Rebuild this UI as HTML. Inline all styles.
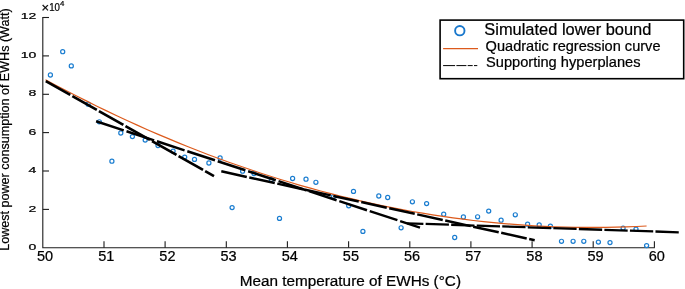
<!DOCTYPE html><html><head><meta charset="utf-8"><title>chart</title><style>html,body{margin:0;padding:0;background:#fff}svg{display:block;will-change:transform}</style></head><body>
<svg width="685" height="289" viewBox="0 0 685 289" font-family="Liberation Sans, Arial, sans-serif" fill="#000">
<style>text{stroke:#000;stroke-width:0.22px}</style>
<rect width="685" height="289" fill="#fff"/>
<g stroke="#1c1c1c" stroke-width="1.1" fill="none">
<path d="M42.8,17.0 V247.8 H654.8"/>
<path d="M104.0,247.8 v-6.6"/>
<path d="M165.1,247.8 v-6.6"/>
<path d="M226.3,247.8 v-6.6"/>
<path d="M287.4,247.8 v-6.6"/>
<path d="M348.6,247.8 v-6.6"/>
<path d="M409.8,247.8 v-6.6"/>
<path d="M470.9,247.8 v-6.6"/>
<path d="M532.1,247.8 v-6.6"/>
<path d="M593.2,247.8 v-6.6"/>
<path d="M654.4,247.8 v-6.6"/>
<path d="M42.8,209.4 h6.2"/>
<path d="M42.8,171.0 h6.2"/>
<path d="M42.8,132.6 h6.2"/>
<path d="M42.8,94.3 h6.2"/>
<path d="M42.8,55.9 h6.2"/>
<path d="M42.8,17.5 h6.2"/>
</g>
<text transform="translate(45.1,261.0) scale(1.03,1)" font-size="14.1" text-anchor="middle">50</text>
<text transform="translate(106.3,261.0) scale(1.03,1)" font-size="14.1" text-anchor="middle">51</text>
<text transform="translate(167.4,261.0) scale(1.03,1)" font-size="14.1" text-anchor="middle">52</text>
<text transform="translate(228.6,261.0) scale(1.03,1)" font-size="14.1" text-anchor="middle">53</text>
<text transform="translate(289.7,261.0) scale(1.03,1)" font-size="14.1" text-anchor="middle">54</text>
<text transform="translate(350.9,261.0) scale(1.03,1)" font-size="14.1" text-anchor="middle">55</text>
<text transform="translate(412.1,261.0) scale(1.03,1)" font-size="14.1" text-anchor="middle">56</text>
<text transform="translate(473.2,261.0) scale(1.03,1)" font-size="14.1" text-anchor="middle">57</text>
<text transform="translate(534.4,261.0) scale(1.03,1)" font-size="14.1" text-anchor="middle">58</text>
<text transform="translate(595.5,261.0) scale(1.03,1)" font-size="14.1" text-anchor="middle">59</text>
<text transform="translate(656.7,261.0) scale(1.03,1)" font-size="14.1" text-anchor="middle">60</text>
<text transform="translate(36.4,250.3) scale(1.69,1)" font-size="8.3" text-anchor="end" stroke="#000" stroke-width="0.15">0</text>
<text transform="translate(36.4,211.8) scale(1.69,1)" font-size="8.3" text-anchor="end" stroke="#000" stroke-width="0.15">2</text>
<text transform="translate(36.4,173.2) scale(1.69,1)" font-size="8.3" text-anchor="end" stroke="#000" stroke-width="0.15">4</text>
<text transform="translate(36.4,134.6) scale(1.69,1)" font-size="8.3" text-anchor="end" stroke="#000" stroke-width="0.15">6</text>
<text transform="translate(36.4,96.1) scale(1.69,1)" font-size="8.3" text-anchor="end" stroke="#000" stroke-width="0.15">8</text>
<text transform="translate(36.4,57.5) scale(1.69,1)" font-size="8.3" text-anchor="end" stroke="#000" stroke-width="0.15">10</text>
<text transform="translate(36.4,19.0) scale(1.69,1)" font-size="8.3" text-anchor="end" stroke="#000" stroke-width="0.15">12</text>
<text transform="translate(41.6,12.3) scale(1.0,1)" font-size="13" text-anchor="start">×</text>
<text transform="translate(49.2,10.8) scale(0.97,1)" font-size="10.0" text-anchor="start">10</text>
<text transform="translate(60.0,5.6) scale(1.0,1)" font-size="7.8" text-anchor="start">4</text>
<text x="239.7" y="285.5" font-size="14" textLength="221.3" lengthAdjust="spacingAndGlyphs">Mean temperature of EWHs (°C)</text>
<text transform="translate(9.4,250.7) rotate(-90)" font-size="13" textLength="242.3" lengthAdjust="spacingAndGlyphs">Lowest power consumption of EWHs (Watt)</text>
<g fill="none" stroke="#1a7dd0" stroke-width="1.2">
<circle cx="111.9" cy="161.2" r="2.05"/>
<circle cx="62.7" cy="51.7" r="2.05"/>
<circle cx="71.3" cy="65.9" r="2.05"/>
<circle cx="50.4" cy="75" r="2.05"/>
<circle cx="88.2" cy="104.2" r="2.05"/>
<circle cx="99.3" cy="121.8" r="2.05"/>
<circle cx="120.8" cy="133" r="2.05"/>
<circle cx="132.4" cy="136.6" r="2.05"/>
<circle cx="145.2" cy="140.1" r="2.05"/>
<circle cx="158" cy="145.5" r="2.05"/>
<circle cx="173.1" cy="151.1" r="2.05"/>
<circle cx="184.7" cy="157.1" r="2.05"/>
<circle cx="194.5" cy="159.4" r="2.05"/>
<circle cx="208.9" cy="163.0" r="2.05"/>
<circle cx="220.1" cy="158.0" r="2.05"/>
<circle cx="242.6" cy="171.2" r="2.05"/>
<circle cx="254" cy="173.5" r="2.05"/>
<circle cx="271.4" cy="179.7" r="2.05"/>
<circle cx="292.6" cy="178.5" r="2.05"/>
<circle cx="306" cy="179.2" r="2.05"/>
<circle cx="315.9" cy="182.3" r="2.05"/>
<circle cx="232.1" cy="207.6" r="2.05"/>
<circle cx="279.5" cy="218.4" r="2.05"/>
<circle cx="353.5" cy="191.4" r="2.05"/>
<circle cx="348.7" cy="205.8" r="2.05"/>
<circle cx="333.5" cy="196.6" r="2.05"/>
<circle cx="378.8" cy="196" r="2.05"/>
<circle cx="387.7" cy="197.5" r="2.05"/>
<circle cx="412.4" cy="201.8" r="2.05"/>
<circle cx="426.6" cy="203.6" r="2.05"/>
<circle cx="362.9" cy="231.4" r="2.05"/>
<circle cx="401.1" cy="227.8" r="2.05"/>
<circle cx="443.7" cy="214.2" r="2.05"/>
<circle cx="454.7" cy="237.5" r="2.05"/>
<circle cx="463.4" cy="217" r="2.05"/>
<circle cx="477.6" cy="216.8" r="2.05"/>
<circle cx="488.7" cy="211.1" r="2.05"/>
<circle cx="501.1" cy="220.2" r="2.05"/>
<circle cx="515.3" cy="214.8" r="2.05"/>
<circle cx="527.6" cy="224.2" r="2.05"/>
<circle cx="539.2" cy="224.9" r="2.05"/>
<circle cx="550.4" cy="226.2" r="2.05"/>
<circle cx="561.5" cy="241.3" r="2.05"/>
<circle cx="573.1" cy="241.3" r="2.05"/>
<circle cx="583.8" cy="241.3" r="2.05"/>
<circle cx="598.4" cy="242.1" r="2.05"/>
<circle cx="610" cy="242.6" r="2.05"/>
<circle cx="623.1" cy="228.1" r="2.05"/>
<circle cx="636" cy="229.1" r="2.05"/>
<circle cx="646.6" cy="245.6" r="2.05"/>
</g>
<path d="M45.5,79.7 L55.7,85.2 L65.9,90.5 L76.1,95.8 L86.3,100.9 L96.4,106.0 L106.6,110.9 L116.8,115.8 L127.0,120.5 L137.2,125.1 L147.4,129.7 L157.6,134.1 L167.8,138.4 L177.9,142.6 L188.1,146.8 L198.3,150.8 L208.5,154.7 L218.7,158.5 L228.9,162.2 L239.1,165.8 L249.3,169.3 L259.5,172.7 L269.6,176.0 L279.8,179.2 L290.0,182.3 L300.2,185.3 L310.4,188.2 L320.6,191.0 L330.8,193.7 L341.0,196.3 L351.1,198.7 L361.3,201.1 L371.5,203.4 L381.7,205.6 L391.9,207.6 L402.1,209.6 L412.3,211.5 L422.5,213.2 L432.6,214.9 L442.8,216.4 L453.0,217.9 L463.2,219.2 L473.4,220.5 L483.6,221.6 L493.8,222.7 L504.0,223.6 L514.2,224.4 L524.3,225.2 L534.5,225.8 L544.7,226.3 L554.9,226.8 L565.1,227.1 L575.3,227.3 L585.5,227.4 L595.7,227.4 L605.8,227.4 L616.0,227.2 L626.2,226.9 L636.4,226.5 L646.6,226.0" fill="none" stroke="#dc5a1c" stroke-width="1.2"/>
<g stroke="#000" fill="none">
<path d="M45.8,81.1 L214.0,176.1" stroke-width="2.7" stroke-dasharray="28.1 2.4" stroke-dashoffset="0"/>
<path d="M96.1,121.3 L420.0,227.6" stroke-width="2.5" stroke-dasharray="29.1 2.9" stroke-dashoffset="0"/>
<path d="M221.3,171.3 L534.7,240.2" stroke-width="2.5" stroke-dasharray="26.1 2.56" stroke-dashoffset="0"/>
<path d="M407.1,223.3 L679.2,232.3" stroke-width="2.3" stroke-dasharray="23.3 2.25" stroke-dashoffset="7"/>
</g>
<rect x="440.1" y="20.1" width="243.6" height="58.6" fill="#fff" stroke="#000" stroke-width="1.6"/>
<circle cx="459.8" cy="30.7" r="4.7" fill="none" stroke="#1877cc" stroke-width="1.9"/>
<path d="M443.1,48.6 H478" stroke="#dc5a1c" stroke-width="1.2" fill="none"/>
<path d="M443.1,65.6 H477.3" stroke="#000" stroke-width="1.0" fill="none" stroke-dasharray="12 1.3 10 1.3 5 1.3 3.3 0"/>
<text x="484.3" y="34.7" font-size="16.3" textLength="167.1" lengthAdjust="spacingAndGlyphs">Simulated lower bound</text>
<text x="485.6" y="50.9" font-size="14.4" textLength="174.9" lengthAdjust="spacingAndGlyphs">Quadratic regression curve</text>
<text x="486" y="66.8" font-size="14.4" textLength="154.5" lengthAdjust="spacingAndGlyphs">Supporting hyperplanes</text>
</svg></body></html>
